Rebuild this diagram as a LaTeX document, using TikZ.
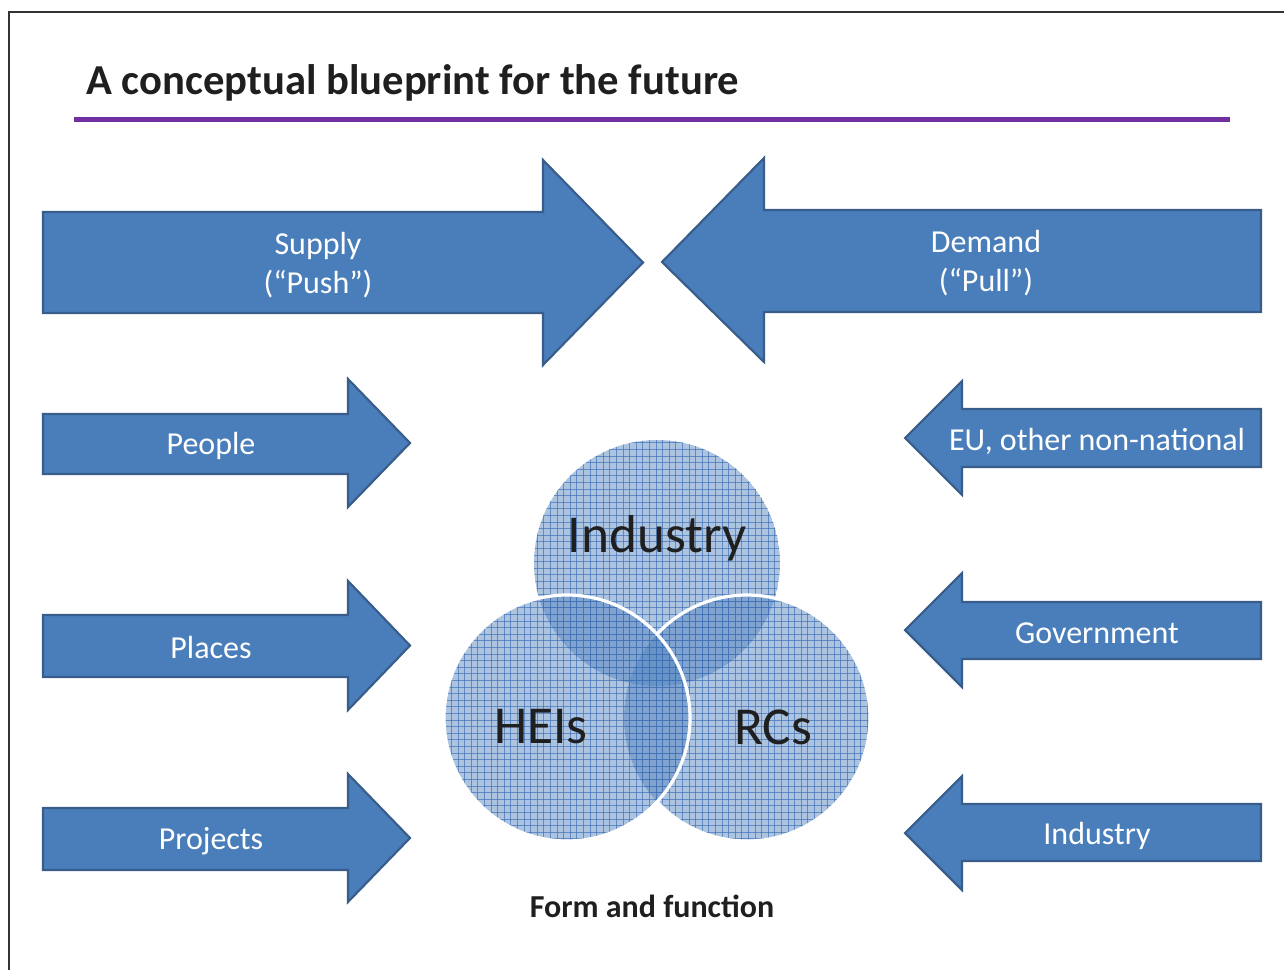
\documentclass[tikz,border=0pt]{standalone}
\usepackage{fontspec}
\setmainfont{Carlito}
\definecolor{arrfill}{HTML}{4A7EBB}
\definecolor{arrline}{HTML}{385D8A}
\definecolor{ttlpurple}{HTML}{7030A0}
\definecolor{circfill}{HTML}{4F81BD}
\definecolor{gridc}{HTML}{3C6EB4}
\definecolor{txtdark}{HTML}{1F1F1F}
\begin{document}
\begin{tikzpicture}[x=0.75pt,y=-0.75pt,
  arr/.style={fill=arrfill,draw=arrline,line width=1.6pt,line join=miter},
  arrtext/.style={text=white,font=\fontsize{24}{29}\selectfont,align=center,inner sep=0pt},
  circtext/.style={text=txtdark,font=\fontsize{40}{48}\selectfont,inner sep=0pt},
  gridline/.style={draw=gridc,line width=0.45pt,opacity=0.65},
  cfill/.style={fill=circfill,opacity=0.47},
  ring/.style={draw=white,line width=2.4pt}]
\useasboundingbox (0,0) rectangle (1284,970);
% frame
\draw[black!80,line width=1.1pt] (9,970) -- (9,12) -- (1284,12);
% title
\node[anchor=west,inner sep=0pt,text=txtdark,font=\fontsize{32}{36}\selectfont\bfseries] (title) at (86,83) {A conceptual blueprint for the future};
\fill[ttlpurple] (74,117) rectangle (1230,122);
% big arrows
\draw[arr] (43,212)--(543,212)--(543,160)--(643,262.5)--(543,365)--(543,313)--(43,313)--cycle;
\draw[arr] (1261,210)--(764,210)--(764,158)--(662,262)--(764,362)--(764,312)--(1261,312)--cycle;
\node[arrtext] (supply) at (318,265) {Supply\\(“Push”)};
\node[arrtext] (demand) at (986,263) {Demand\\(“Pull”)};
% left arrows
\draw[arr] (43,414)--(348,414)--(348,379)--(410,443)--(348,507)--(348,474)--(43,474)--cycle;
\draw[arr] (43,615)--(348,615)--(348,581)--(410,645.5)--(348,710)--(348,677)--(43,677)--cycle;
\draw[arr] (43,808)--(348,808)--(348,774)--(410,838)--(348,902)--(348,870)--(43,870)--cycle;
\node[arrtext] (people) at (211,446) {People};
\node[arrtext] (places) at (211,648) {Places};
\node[arrtext] (projects) at (211,841) {Projects};
% right arrows
\draw[arr] (1261,409)--(962,409)--(962,381)--(905,438)--(962,495)--(962,467)--(1261,467)--cycle;
\draw[arr] (1261,602)--(962,602)--(962,573)--(905,630)--(962,687)--(962,659)--(1261,659)--cycle;
\draw[arr] (1261,804)--(962,804)--(962,776)--(905,833)--(962,890)--(962,861)--(1261,861)--cycle;
\node[arrtext] (eu) at (1097,441) {EU, other non-national};
\node[arrtext] (gov) at (1097,633) {Government};
\node[arrtext] (ind) at (1097,836) {Industry};
% Venn circles: Industry, RCs, HEIs
\foreach \cx/\cy in {657/563, 747/718, 567/718} {
  \begin{scope}
    \clip (\cx,\cy) circle[radius=123];
    \fill[cfill] (\cx,\cy) circle[radius=123];
    \foreach \k in {0,...,66} {
      \draw[gridline] ({438+\k*6.6},430) -- ({438+\k*6.6},850);
      \draw[gridline] (430,{436+\k*6.6}) -- (880,{436+\k*6.6});
    }
  \end{scope}
}
% RCs ring outside HEIs
\begin{scope}[even odd rule]
  \clip (0,0) rectangle (1284,970) (567,718) circle[radius=124];
  \draw[ring] (747,718) circle[radius=123];
\end{scope}
\draw[ring] (567,718) circle[radius=123];
\node[circtext] (cind) at (657,538) {Industry};
\node[circtext] (heis) at (541,727) {HEIs};
\node[circtext] (rcs) at (773,727) {RCs};
\node[inner sep=0pt,text=txtdark,font=\fontsize{24}{28}\selectfont\bfseries] (form) at (652,906) {Form and function};
\end{tikzpicture}
\end{document}
